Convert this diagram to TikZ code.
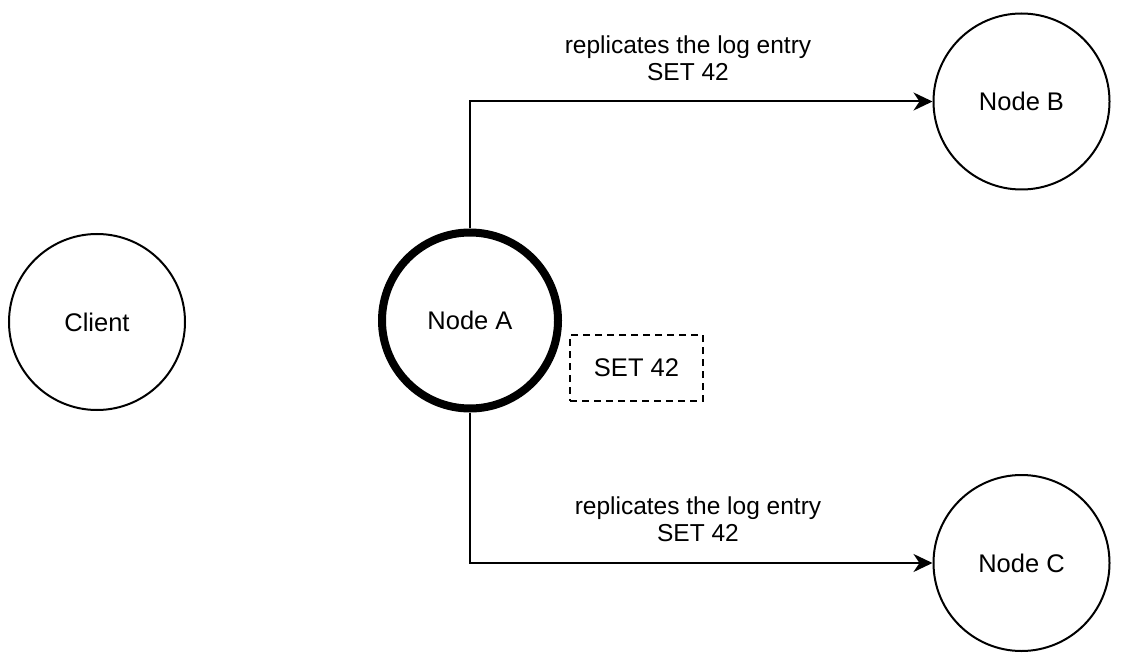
\documentclass[tikz,border=0pt]{standalone}
\usepackage{fontspec}
\setmainfont{Liberation Sans}
\usetikzlibrary{arrows.meta}
\begin{document}
\begin{tikzpicture}[x=1pt,y=-1pt,
  every node/.style={font=\fontsize{25.5}{27}\selectfont},
  circ/.style={draw,circle,line width=2pt,minimum size=176pt,inner sep=0pt},
  thickcirc/.style={draw,circle,line width=8pt,minimum size=176pt,inner sep=0pt},
  logbox/.style={draw,dashed,dash pattern=on 7pt off 5pt,line width=1.8pt,minimum width=133pt,minimum height=66pt,inner sep=0pt},
  arr/.style={line width=2pt,-{Stealth[length=19pt,width=18pt,inset=6pt]}},
  lbl/.style={align=center,inner sep=0pt,font=\fontsize{24.5}{27}\selectfont}]
\useasboundingbox (0,0) rectangle (1134,668);
\node[circ] (client) at (97,322) {Client};
\node[thickcirc] (a) at (470,320.5) {Node A};
\node[circ] (b) at (1021.5,101.5) {Node B};
\node[circ] (c) at (1021.5,563) {Node C};
\node[logbox] (log) at (636.5,368) {SET 42};
\draw[arr] (a.north) |- (b.west);
\draw[arr] (a.south) |- (c.west);
\node[lbl] (lb) at (688,58) {replicates the log entry\\SET 42};
\node[lbl] (lc) at (698,519) {replicates the log entry\\SET 42};
\end{tikzpicture}
\end{document}
